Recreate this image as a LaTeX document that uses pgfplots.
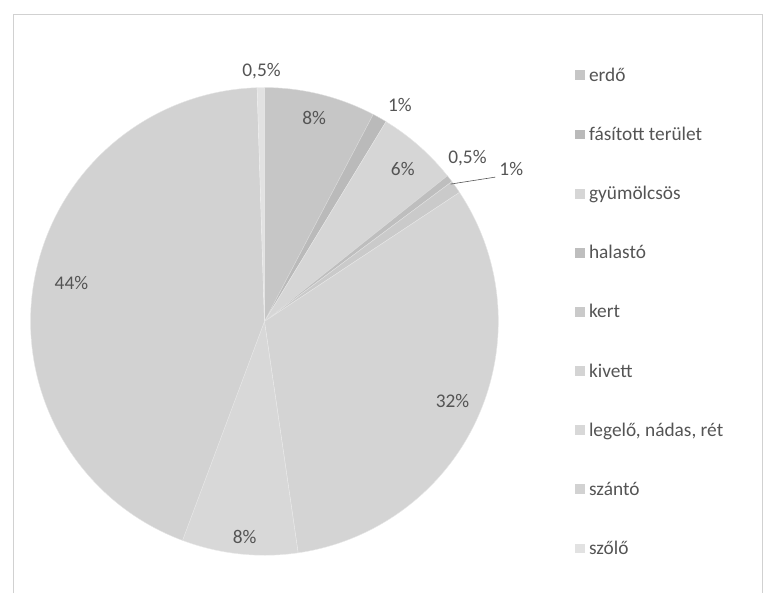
\documentclass[border=0pt]{standalone}
\usepackage{pgfplots}
\pgfplotsset{compat=1.18}
\usepackage{pgfplotstable}
\usepackage{fontspec}
\setmainfont{Carlito}

\definecolor{slice0}{HTML}{C6C6C6}
\definecolor{slice1}{HTML}{BABABA}
\definecolor{slice2}{HTML}{D6D6D6}
\definecolor{slice3}{HTML}{BEBEBE}
\definecolor{slice4}{HTML}{CACACA}
\definecolor{slice5}{HTML}{D4D4D4}
\definecolor{slice6}{HTML}{D8D8D8}
\definecolor{slice7}{HTML}{D2D2D2}
\definecolor{slice8}{HTML}{E2E2E2}
\definecolor{txt}{HTML}{545454}

% share of each land-use category (percent), clockwise from 12 o'clock
\pgfplotstableread{
value
7.7
1.0
5.6
0.5
0.9
32.0
8.0
43.8
0.5
}\piedata

\begin{document}
\begin{tikzpicture}
\begin{axis}[
  width=766bp, height=596bp, scale only axis,
  xmin=0, xmax=766, ymin=0, ymax=596,
  hide axis, clip=false,
  legend style={at={(axis cs:571,532)}, anchor=north west, draw=none, fill=none,
    font=\fontsize{19.5}{22}\selectfont\color{txt}, row sep=40.5bp,
    /tikz/every odd column/.append style={column sep=2bp}},
  legend cell align=left,
  legend image code/.code={\fill[draw=none,#1] (0bp,-5bp) rectangle (10bp,5bp);},
]
\path (axis cs:0,0) rectangle (axis cs:766,596);
\draw[color=black!18, line width=0.8pt] (axis cs:10,0) -- (axis cs:10,582) -- (axis cs:762,582) -- (axis cs:762,0);

\def\cx{262}\def\cy{273}\def\R{235}
\pgfmathsetmacro\cum{0}
\pgfplotsforeachungrouped \i in {0,...,8}{%
  \pgfplotstablegetelem{\i}{value}\of\piedata
  \let\v\pgfplotsretval
  \pgfmathsetmacro\a{90-3.6*\cum}%
  \pgfmathsetmacro\b{90-3.6*(\cum+\v)}%
  \pgfmathsetmacro\cum{\cum+\v}%
  \edef\temp{\noexpand\fill[fill=slice\i, draw=white!45!slice\i, line width=0.4pt] (axis cs:\cx,\cy) -- ++(\a:\R bp) arc[start angle=\a, end angle=\b, radius=\R bp] -- cycle;}%
  \temp
}

\addlegendimage{fill=slice0}\addlegendentry{erdő}
\addlegendimage{fill=slice1}\addlegendentry{fásított terület}
\addlegendimage{fill=slice2}\addlegendentry{gyümölcsös}
\addlegendimage{fill=slice3}\addlegendentry{halastó}
\addlegendimage{fill=slice4}\addlegendentry{kert}
\addlegendimage{fill=slice5}\addlegendentry{kivett}
\addlegendimage{fill=slice6}\addlegendentry{legelő, nádas, rét}
\addlegendimage{fill=slice7}\addlegendentry{szántó}
\addlegendimage{fill=slice8}\addlegendentry{szőlő}

\begin{scope}[every node/.style={font=\fontsize{19.5}{22}\selectfont, text=txt}]
\node at (axis cs:259,525) {0,5\%};
\node at (axis cs:312,477) {8\%};
\node at (axis cs:398,490) {1\%};
\node at (axis cs:401,426) {6\%};
\node at (axis cs:466,437) {0,5\%};
\node at (axis cs:510,426) {1\%};
\node at (axis cs:68,312) {44\%};
\node at (axis cs:451,193) {32\%};
\node at (axis cs:242,56) {8\%};
\end{scope}
\draw[color=txt, line width=0.6pt] (axis cs:449,411) -- (axis cs:494,418);
\end{axis}
\end{tikzpicture}
\end{document}
